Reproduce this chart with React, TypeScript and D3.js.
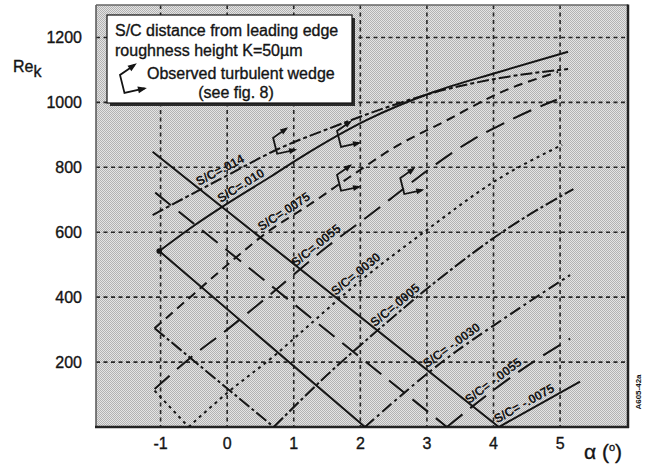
import React from 'react';
import * as d3 from 'd3';

type Pt = [number, number];

const xTicks = [-1, 0, 1, 2, 3, 4, 5];
const yTicks = [200, 400, 600, 800, 1000, 1200];

// Re_k vs angle of attack for each roughness location S/C.
// Rising branches (roughness moving away from the attachment line)
const rise014: Pt[] = [[-1.12, 653], [0, 775], [0.74, 854], [1.6, 925], [2.4, 985], [3.1, 1030], [4.1, 1075], [5.12, 1103]];
const rise010: Pt[] = [[-1.02, 542], [-0.5, 620], [0, 688], [0.65, 771], [1.1, 830], [2.1, 946], [3.1, 1032], [4.07, 1093], [5.12, 1156]];
const rise0075: Pt[] = [[-1.09, 304], [-0.5, 410], [0.09, 515], [0.6, 600], [1.2, 680], [1.84, 770], [2.5, 860], [3.3, 945], [4.1, 1030], [4.97, 1094]];
const rise0055: Pt[] = [[-1.09, 117], [-0.5, 222], [0, 300], [0.6, 400], [1.5, 555], [2.1, 647], [2.45, 702], [3.05, 797], [3.68, 884], [4.1, 930], [4.58, 977], [4.95, 1008]];
const rise0030: Pt[] = [[-0.58, 0], [0, 105], [0.74, 225], [1.1, 290], [2.0, 450], [2.94, 598], [4.05, 761], [5.03, 869]];
const rise0005: Pt[] = [[0.7, 0], [1.5, 160], [2.3, 305], [3.27, 470], [4.2, 610], [5.2, 733]];
const riseM0030: Pt[] = [[2.07, 0], [3.27, 207], [4.2, 340], [5.15, 468]];
const riseM0055: Pt[] = [[3.3, 0], [3.65, 58], [4.42, 176], [5.15, 272]];
const riseM0075: Pt[] = [[4.08, 0], [5.3, 140]];

// Falling branches (roughness approaching the attachment line)
const fall0030: Pt[] = [[-1.09, 112], [-0.58, 0]];
const fall0005: Pt[] = [[-1.09, 304], [0.7, 0]];
const fallM0030: Pt[] = [[-1.02, 542], [2.07, 0]];
const fallM0055: Pt[] = [[-1.08, 722], [3.3, 0]];
const fallM0075: Pt[] = [[-1.12, 848], [4.08, 0]];

const curveNames = ['S/C=.014', 'S/C=.010', 'S/C=.0075', 'S/C=.0055', 'S/C=.0030', 'S/C=.0005', 'S/C= -.0030', 'S/C= -.0055', 'S/C= -.0075'];
const labelAlpha = [-0.05, 0.27, 0.92, 1.41, 2.01, 2.6, 3.44, 4.07, 4.52];

// Observed turbulent wedges (anchor corner of each bracket)
const wedgeAlpha = [0.69, 1.65, 1.65, 2.6];
const wedgeRe = [891, 912, 777, 767];

const W = 646;
const H = 466;
const PL = 96, PR = 628, PT = 5, PB = 427;

const x = d3.scaleLinear().domain([-1.97, 6.02]).range([PL, PR]);
const y = d3.scaleLinear().domain([0, 1300]).range([PB, PT]);

const FONT = '"Liberation Sans", Arial, Helvetica, sans-serif';
const INK = '#141414';

const dashFor: Record<string, string> = {
  dashdot: '12,3,4,3',
  solid: '',
  dashed: '9,6',
  long: '20,10',
  dotted: '3,4',
  dashdot2: '13,3,3,3',
  dashdot3: '12,4,3,4',
};

const series = [
  { rise: rise014, fall: null as Pt[] | null, style: 'dashdot' },
  { rise: rise010, fall: null, style: 'solid' },
  { rise: rise0075, fall: null, style: 'dashed' },
  { rise: rise0055, fall: null, style: 'long' },
  { rise: rise0030, fall: fall0030, style: 'dotted' },
  { rise: rise0005, fall: fall0005, style: 'dashdot2' },
  { rise: riseM0030, fall: fallM0030, style: 'dashdot3', fallStyle: 'solid' },
  { rise: riseM0055, fall: fallM0055, style: 'long' },
  { rise: riseM0075, fall: fallM0075, style: 'solid' },
];

const smooth = d3.line<Pt>().x(d => x(d[0])).y(d => y(d[1])).curve(d3.curveMonotoneX);
const straight = d3.line<Pt>().x(d => x(d[0])).y(d => y(d[1]));

function interp(pts: Pt[], a: number): number {
  for (let i = 0; i < pts.length - 1; i++) {
    const [a0, r0] = pts[i];
    const [a1, r1] = pts[i + 1];
    if (a >= a0 && a <= a1) return r0 + ((a - a0) / (a1 - a0)) * (r1 - r0);
  }
  if (a < pts[0][0]) return pts[0][1];
  return pts[pts.length - 1][1];
}

function arrowHead(sx: number, sy: number, ex: number, ey: number, len: number, wid: number) {
  const dx = ex - sx, dy = ey - sy;
  const L = Math.hypot(dx, dy);
  const ux = dx / L, uy = dy / L;
  const nx = -uy, ny = ux;
  const bx = ex - ux * len, by = ey - uy * len;
  return `M${ex},${ey}L${bx + nx * wid / 2},${by + ny * wid / 2}L${bx - nx * wid / 2},${by - ny * wid / 2}Z`;
}

function Wedge({ tx, ty, s }: { tx: number; ty: number; s: number }) {
  const topX = tx + 13 * s, topY = ty - 9 * s;
  const bx = tx + 4 * s, by = ty + 16 * s;
  const botX = bx + 18 * s, botY = by - 4 * s;
  return (
    <g stroke={INK} fill="none" strokeWidth={1.8}>
      <path d={`M${topX},${topY}L${tx},${ty}L${bx},${by}L${botX},${botY}`} strokeLinejoin="miter" />
      <path d={arrowHead(tx, ty, topX + 2 * s, topY - 1.4 * s, 8 * s, 6 * s)} fill={INK} stroke="none" />
      <path d={arrowHead(bx, by, botX + 2 * s, botY - 0.45 * s, 8 * s, 6 * s)} fill={INK} stroke="none" />
    </g>
  );
}

export default function App() {
  return (
    <svg width={W} height={H} viewBox={`0 0 ${W} ${H}`}
      style={{ position: 'absolute', left: 0, top: 0, background: '#fff' }}
      fontFamily={FONT}>
      <defs>
        <pattern id="halftone" width={2} height={2} patternUnits="userSpaceOnUse">
          <rect width={2} height={2} fill="#e4e4e4" />
          <rect width={1} height={1} fill="#b2b2b2" />
          <rect x={1} y={1} width={1} height={1} fill="#b2b2b2" />
        </pattern>
        <clipPath id="plotClip">
          <rect x={PL} y={PT} width={PR - PL} height={PB - PT} />
        </clipPath>
      </defs>

      {/* plot background */}
      <rect x={PL} y={PT} width={PR - PL} height={PB - PT} fill="url(#halftone)" />

      {/* grid */}
      <g stroke="#262626" strokeWidth={1.6} strokeDasharray="4,3.5">
        {xTicks.map(t => (
          <line key={'gx' + t} x1={x(t)} x2={x(t)} y1={PT} y2={PB} />
        ))}
        {yTicks.map(t => (
          <line key={'gy' + t} x1={PL} x2={PR} y1={y(t)} y2={y(t)} />
        ))}
      </g>

      {/* frame */}
      <line x1={PL} x2={PL} y1={PT} y2={PB} stroke="#555" strokeWidth={1.5} />
      <line x1={PL} x2={PR} y1={PT} y2={PT} stroke="#666" strokeWidth={1.3} />
      <line x1={PR} x2={PR} y1={PT - 0.5} y2={PB + 1} stroke="#222" strokeWidth={2.5} />
      <line x1={PL - 1} x2={PR + 1} y1={PB} y2={PB} stroke="#222" strokeWidth={2.5} />

      {/* curves */}
      <g clipPath="url(#plotClip)" fill="none" stroke={INK} strokeWidth={2}>
        {series.map((s, i) => (
          <g key={'c' + i}>
            <path d={smooth(s.rise) || ''} strokeDasharray={dashFor[s.style]} />
            {s.fall && (
              <path d={straight(s.fall) || ''} strokeDasharray={dashFor[(s as any).fallStyle || s.style]} />
            )}
          </g>
        ))}
      </g>
      <circle cx={x(rise010[0][0])} cy={y(rise010[0][1])} r={2.8} fill={INK} />

      {/* curve labels */}
      <g fontSize={12.5} fontWeight="bold" fill={INK} textAnchor="middle">
        {series.map((s, i) => {
          const a = labelAlpha[i];
          const px = x(a), py = y(interp(s.rise, a));
          const p0x = x(a - 0.25), p0y = y(interp(s.rise, a - 0.25));
          const p1x = x(a + 0.25), p1y = y(interp(s.rise, a + 0.25));
          const ang = (Math.atan2(p1y - p0y, p1x - p0x) * 180) / Math.PI;
          return (
            <text key={'l' + i} transform={`translate(${px},${py}) rotate(${ang})`} y={-4}>
              {curveNames[i]}
            </text>
          );
        })}
      </g>

      {/* turbulent wedge markers */}
      {wedgeAlpha.map((a, i) => (
        <Wedge key={'w' + i} tx={x(a)} ty={y(wedgeRe[i])} s={1} />
      ))}

      {/* legend */}
      <rect x={110} y={18} width={245} height={88} fill="#2a2a2a" />
      <rect x={107} y={15} width={245} height={88} fill="#fff" stroke="#111" strokeWidth={1.2} />
      <g fontSize={16} fill={INK} stroke={INK} strokeWidth={0.35}>
        <text x={115} y={36}>S/C distance from leading edge</text>
        <text x={115} y={56}>roughness height K=50µm</text>
        <text x={147} y={79}>Observed turbulent wedge</text>
        <text x={236} y={98} textAnchor="middle">(see fig. 8)</text>
      </g>
      <Wedge tx={120} ty={75} s={1.12} />

      {/* axes tick labels */}
      <g fontSize={16} fill={INK} stroke={INK} strokeWidth={0.35}>
        {yTicks.map(t => (
          <text key={'yl' + t} x={82} y={y(t) + 6} textAnchor="end">{t}</text>
        ))}
        {xTicks.map(t => (
          <text key={'xl' + t} x={x(t)} y={449} textAnchor="middle">{t}</text>
        ))}
      </g>

      {/* axis titles */}
      <text x={13} y={72} fontSize={16} fill={INK} stroke={INK} strokeWidth={0.35}>
        Re<tspan dy={5}>k</tspan>
      </text>
      <text x={584} y={459} fontSize={21} fill={INK} stroke={INK} strokeWidth={0.35}>
        α (<tspan fontSize={11} dy={-8}>o</tspan><tspan dy={8}>)</tspan>
      </text>

      <text transform="translate(641,392) rotate(-90)" fontSize={8} fontWeight="bold" fill={INK} textAnchor="middle">
        A605-42a
      </text>
    </svg>
  );
}
